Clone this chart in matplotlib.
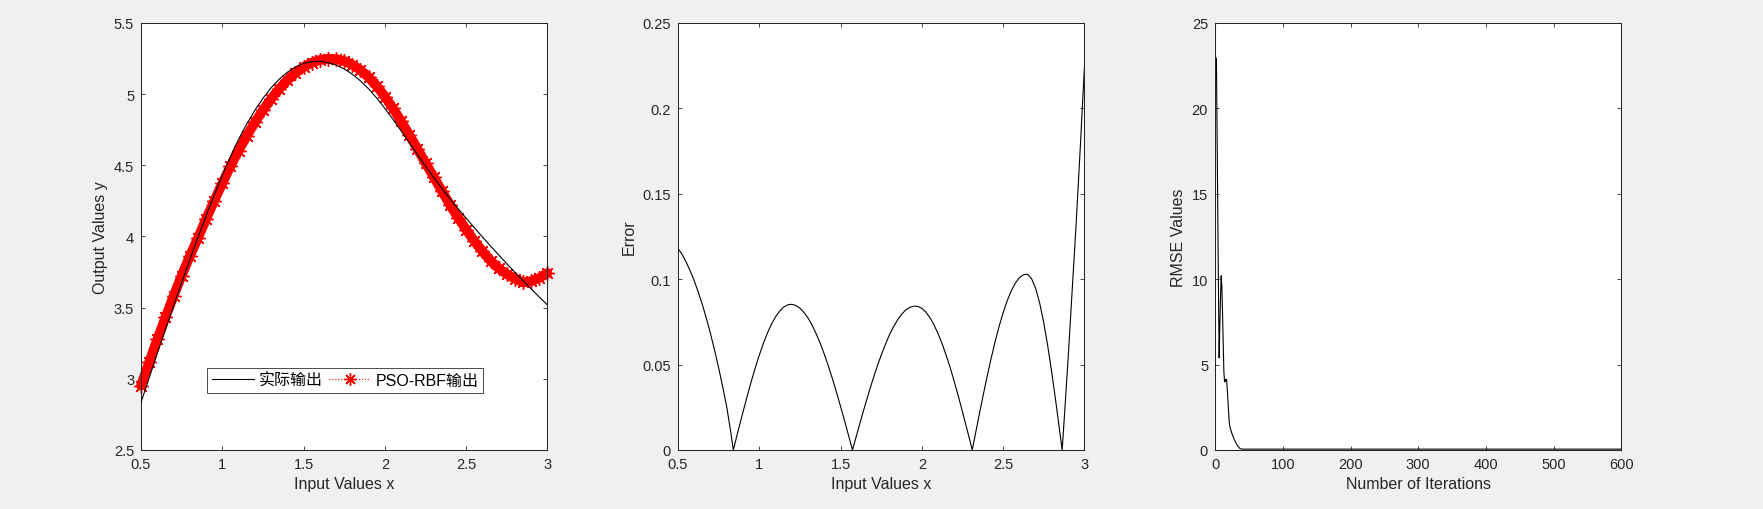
import numpy as np
import matplotlib
matplotlib.use("Agg")
import matplotlib.pyplot as plt
from matplotlib.lines import Line2D
from matplotlib.ticker import FuncFormatter

plt.rcParams['font.family'] = ['Liberation Sans', 'Noto Sans CJK SC', 'DejaVu Sans']

# input grid of the test samples
x = np.linspace(0.5, 3.0, 51)

# actual output (black curve)
y_actual = [2.835, 3.007, 3.178, 3.346, 3.513, 3.677, 3.837, 3.993, 4.144, 4.290,
            4.430, 4.562, 4.682, 4.790, 4.886, 4.971, 5.044, 5.105, 5.154, 5.191,
            5.216, 5.229, 5.231, 5.222, 5.204, 5.177, 5.140, 5.093, 5.037, 4.973,
            4.900, 4.823, 4.742, 4.659, 4.576, 4.494, 4.415, 4.339, 4.266, 4.196,
            4.129, 4.062, 3.997, 3.933, 3.871, 3.809, 3.749, 3.690, 3.632, 3.575,
            3.519]

# PSO-RBF output (red asterisks)
y_pred = [2.953, 3.117, 3.277, 3.431, 3.581, 3.725, 3.862, 3.989, 4.122, 4.250,
          4.374, 4.494, 4.604, 4.706, 4.801, 4.888, 4.967, 5.037, 5.098, 5.149,
          5.191, 5.221, 5.240, 5.248, 5.246, 5.233, 5.207, 5.169, 5.119, 5.057,
          4.983, 4.900, 4.810, 4.714, 4.616, 4.516, 4.419, 4.320, 4.224, 4.133,
          4.049, 3.969, 3.896, 3.830, 3.776, 3.735, 3.704, 3.678, 3.686, 3.709,
          3.743]

# absolute error, read on a finer grid (step 0.025)
err_x = np.linspace(0.5, 3.0, 101)
err = [0.118, 0.1145, 0.110, 0.1048, 0.099, 0.0922, 0.085, 0.0768, 0.068, 0.0583,
       0.048, 0.0368, 0.025, 0.010, 0.0038, 0.0132, 0.0224, 0.0314, 0.040, 0.0481,
       0.0556, 0.0624, 0.0685, 0.0737, 0.078, 0.0813, 0.0837, 0.085, 0.0853, 0.0846,
       0.083, 0.0805, 0.0772, 0.073, 0.068, 0.0624, 0.056, 0.0491, 0.0416, 0.0337,
       0.0254, 0.0169, 0.0081, 0.0007, 0.0092, 0.0177, 0.026, 0.034, 0.0417, 0.0489,
       0.0556, 0.0617, 0.0673, 0.0721, 0.0761, 0.0794, 0.0819, 0.0835, 0.0842, 0.0841,
       0.0829, 0.0807, 0.0774, 0.0732, 0.068, 0.0621, 0.0553, 0.048, 0.0398, 0.0313,
       0.0223, 0.0131, 0.0038, 0.0073, 0.0193, 0.0311, 0.0424, 0.0532, 0.0632, 0.0723,
       0.0804, 0.0874, 0.0932, 0.0977, 0.1009, 0.1026, 0.1029, 0.1003, 0.0946, 0.0859,
       0.0744, 0.0605, 0.0448, 0.0276, 0.0095, 0.017, 0.054, 0.094, 0.134, 0.178,
       0.224]
# where the two outputs cross (error = 0)
err_zero_x = [0.84, 1.573, 2.31, 2.863]

# PSO convergence curve
rmse_iter = [1, 2, 3, 4, 5, 6, 7, 8, 9, 10, 11, 12, 13, 14, 15, 16, 17, 18, 19, 20,
             21, 22, 23, 25, 28, 31, 34, 37, 40, 600]
rmse_val = [23.0, 22.9, 18.5, 14.0, 9.5, 5.4, 7.2, 8.9, 10.2, 9.6, 8.1, 6.3, 4.6, 4.0,
            4.0, 4.15, 4.1, 3.6, 2.9, 2.2, 1.6, 1.35, 1.2, 0.95, 0.65, 0.4, 0.2, 0.08,
            0.05, 0.05]

AX_COL = '#262626'
TICK_FS = 10.5
LABEL_FS = 11.5
ASTER = (8, 2, 0)   # matlab style '*'


def matlab_style(ax):
    ax.set_facecolor('white')
    for s in ax.spines.values():
        s.set_color(AX_COL)
        s.set_linewidth(0.75)
    ax.tick_params(direction='in', top=True, right=True, length=3, width=0.6,
                   colors=AX_COL, labelsize=TICK_FS, pad=5)
    g = FuncFormatter(lambda v, p: '%g' % round(v, 4))
    ax.xaxis.set_major_formatter(g)
    ax.yaxis.set_major_formatter(g)


fig = plt.figure(figsize=(17.63, 5.10), dpi=100, facecolor='#f0f0f0')

W = 0.2305
H = 0.8373
B = 0.1157
ax1 = fig.add_axes([0.0800, B, W, H])
ax2 = fig.add_axes([0.3846, B, W, H])
ax3 = fig.add_axes([0.6892, B, W, H])

# --- outputs
ax1.plot(x, y_actual, color='black', lw=0.8, zorder=3)
ax1.plot(x, y_pred, color='red', lw=7, solid_capstyle='round', zorder=2,
         clip_on=False)
ax1.plot(x, y_pred, color='red', ls=':', lw=0.8, marker=ASTER, ms=10.5, mew=1.0,
         zorder=2, clip_on=False)
ax1.set_xlim(0.5, 3)
ax1.set_ylim(2.5, 5.5)
ax1.set_xticks(np.arange(0.5, 3.01, 0.5))
ax1.set_yticks(np.arange(2.5, 5.51, 0.5))
ax1.set_xlabel('Input Values x', fontsize=LABEL_FS, color=AX_COL)
ax1.set_ylabel('Output Values y', fontsize=LABEL_FS, color=AX_COL)
matlab_style(ax1)

handles = [Line2D([], [], color='black', lw=0.8),
           Line2D([], [], color='red', ls=':', lw=0.8, marker=ASTER, ms=9, mew=1.0)]
leg = ax1.legend(handles, ['实际输出', 'PSO-RBF输出'], ncol=2, loc='center',
                 bbox_to_anchor=(0.5025, 0.163), fontsize=11.5, frameon=True,
                 fancybox=False, edgecolor=AX_COL, handlelength=2.6,
                 columnspacing=0.4, handletextpad=0.3, borderpad=0.3,
                 borderaxespad=0)
leg.get_frame().set_linewidth(0.75)
leg.set_zorder(5)

# --- error
ex = np.concatenate([err_x, err_zero_x])
ey = np.concatenate([err, np.zeros(len(err_zero_x))])
order = np.argsort(ex)
ax2.plot(ex[order], ey[order], color='black', lw=0.8)
ax2.set_xlim(0.5, 3)
ax2.set_ylim(0, 0.25)
ax2.set_xticks(np.arange(0.5, 3.01, 0.5))
ax2.set_yticks(np.arange(0, 0.251, 0.05))
ax2.set_xlabel('Input Values x', fontsize=LABEL_FS, color=AX_COL)
ax2.set_ylabel('Error', fontsize=LABEL_FS, color=AX_COL)
matlab_style(ax2)

# --- convergence
ax3.plot(rmse_iter, rmse_val, color='black', lw=0.8)
ax3.set_xlim(0, 600)
ax3.set_ylim(0, 25)
ax3.set_xticks(np.arange(0, 601, 100))
ax3.set_yticks(np.arange(0, 26, 5))
ax3.set_xlabel('Number of Iterations', fontsize=LABEL_FS, color=AX_COL)
ax3.set_ylabel('RMSE Values', fontsize=LABEL_FS, color=AX_COL)
matlab_style(ax3)

fig.savefig('out.png', dpi=100, facecolor=fig.get_facecolor())
